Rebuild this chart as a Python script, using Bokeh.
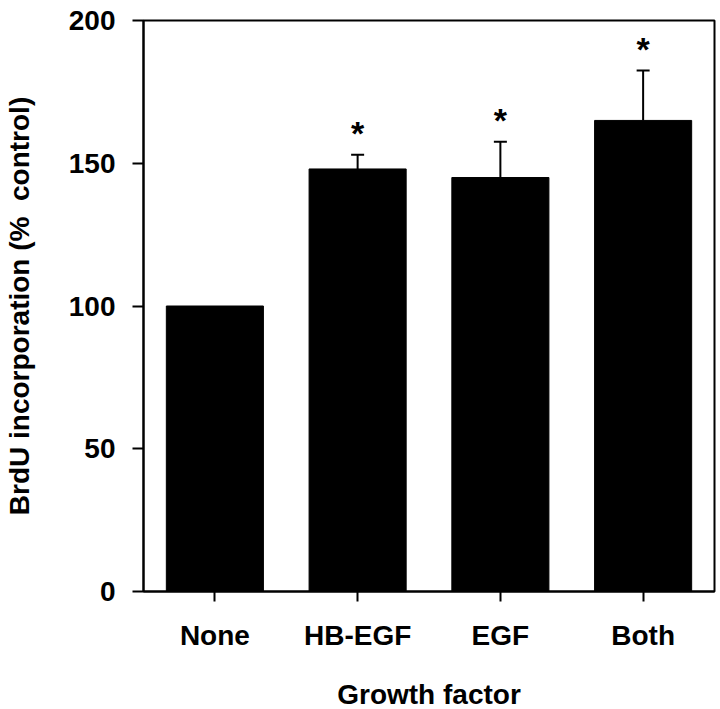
from bokeh.plotting import figure
from bokeh.models import ColumnDataSource, Whisker, TeeHead, Range1d, FactorRange
from bokeh.core.properties import value
from bokeh.embed import file_html
from bokeh.resources import INLINE

categories = ["None", "HB-EGF", "EGF", "Both"]
means = [100, 148, 145, 165]
errors = [0, 5, 12.5, 17.5]
significant = [False, True, True, True]
y_ticks = [0, 50, 100, 150, 200]

FONT = "Liberation Sans"

p = figure(x_range=FactorRange(*categories, range_padding=0), y_range=Range1d(0, 200),
           frame_width=571, frame_height=571,
           min_border_left=143, min_border_right=4, min_border_top=20, min_border_bottom=116,
           output_backend="svg", toolbar_location=None)

src = ColumnDataSource(dict(x=categories, top=means))
p.vbar(x="x", top="top", width=0.68, source=src, fill_color="black", line_color="black")

ex = [c for c, e in zip(categories, errors) if e > 0]
elo = [m for m, e in zip(means, errors) if e > 0]
ehi = [m + e for m, e in zip(means, errors) if e > 0]
esrc = ColumnDataSource(dict(x=ex, lower=elo, upper=ehi))
w = Whisker(base="x", lower="lower", upper="upper", source=esrc,
            line_color="black", line_width=2,
            upper_head=TeeHead(size=13, line_width=2, line_color="black"),
            lower_head=None)
p.add_layout(w)

sx = [c for c, s in zip(categories, significant) if s]
sy = [m + e + 10.4 for m, e, s in zip(means, errors, significant) if s]
p.text(x=sx, y=sy, text=["*"] * len(sx), text_font=value(FONT), text_font_style="bold",
       text_font_size="34px", text_align="center", text_baseline="middle", y_offset=8,
       text_color="black")

p.xgrid.visible = False
p.ygrid.visible = False
p.outline_line_color = "black"
p.outline_line_width = 2
p.background_fill_color = "white"

p.yaxis.ticker = y_ticks
p.yaxis.minor_tick_line_color = None
p.yaxis.major_tick_in = 0
p.yaxis.major_tick_out = 11
p.yaxis.major_tick_line_width = 2
p.yaxis.axis_line_width = 2
p.yaxis.major_label_standoff = 17
p.yaxis.axis_label = "BrdU incorporation (%\u00a0 control)"
p.yaxis.axis_label_standoff = 31

p.xaxis.major_tick_in = 0
p.xaxis.major_tick_out = 10
p.xaxis.major_tick_line_width = 2
p.xaxis.axis_line_width = 2
p.xaxis.major_label_standoff = 18
p.xaxis.axis_label = "Growth factor"
p.xaxis.axis_label_standoff = 25

for ax in (p.xaxis[0], p.yaxis[0]):
    ax.major_label_text_font = FONT
    ax.major_label_text_font_style = "bold"
    ax.major_label_text_font_size = "28px"
    ax.major_label_text_color = "black"
    ax.axis_label_text_font = FONT
    ax.axis_label_text_font_style = "bold"
    ax.axis_label_text_font_size = "28px"
    ax.axis_label_text_color = "black"
    ax.axis_line_color = "black"
    ax.major_tick_line_color = "black"

open("out.html", "w").write(file_html(p, INLINE))
